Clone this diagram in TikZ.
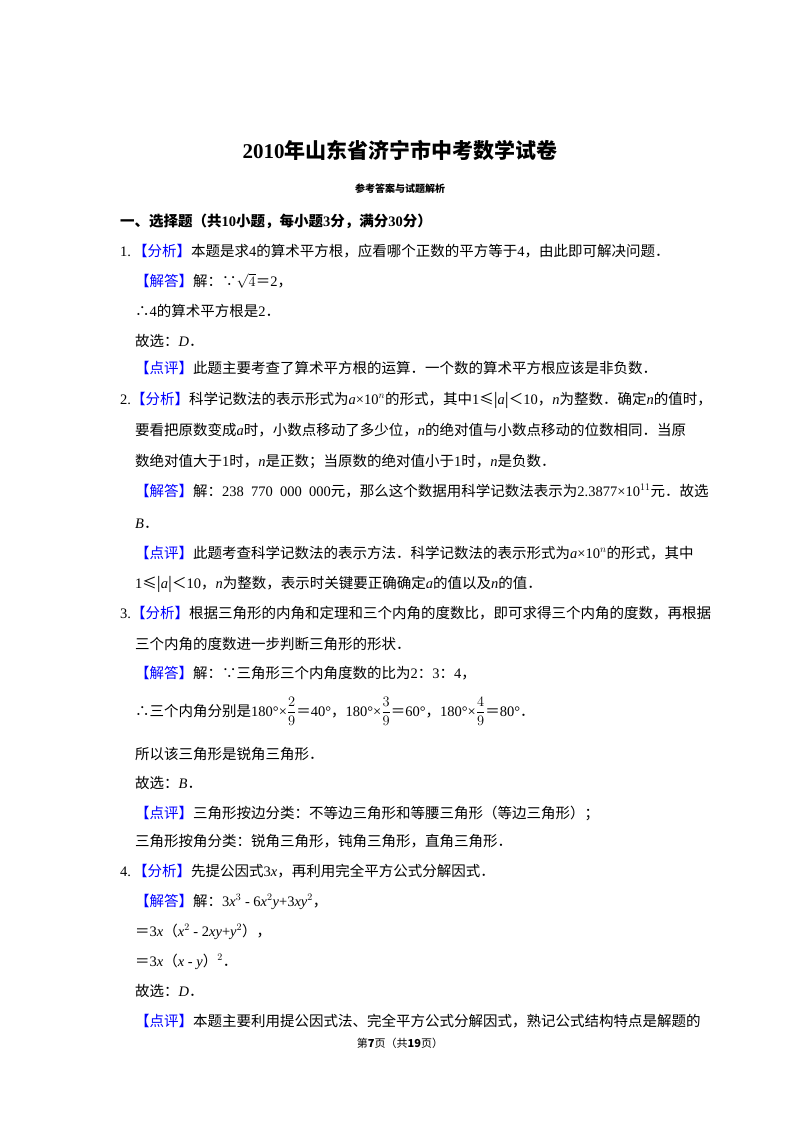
\documentclass[tikz,border=0pt]{standalone}
\usepackage{fontspec}
\setmainfont{Noto Sans CJK SC}
\newfontfamily\ser{Liberation Serif}
\newcommand{\m}[1]{{\ser #1}}
\newcommand{\mi}[1]{{\ser\itshape #1}}
\newcommand{\tg}[1]{{\color{blue}【#1】}}
\newcommand{\fr}[2]{$\displaystyle\frac{#1}{#2}$}
\begin{document}
\begin{tikzpicture}[x=1pt,y=-1pt,
  ln/.style={anchor=base west,inner sep=0pt,font=\fontsize{14.5}{16}\selectfont}]
\useasboundingbox[fill=white] (0,0) rectangle (800,1132);
\node[anchor=base,inner sep=0pt,font=\fontsize{21}{24}\selectfont\bfseries] (title) at (400,158) {\m{\bfseries 2010}年山东省济宁市中考数学试卷};
\node[anchor=base,inner sep=0pt,font=\fontsize{10}{12}\selectfont\bfseries] (sub) at (400,192) {参考答案与试题解析};
\node[ln,font=\fontsize{14.5}{16}\selectfont\bfseries] (sec) at (120,226) {一、选择题（共\m{\bfseries 10}小题，每小题\m{\bfseries 3}分，满分\m{\bfseries 30}分）};
\node[ln] (l1) at (120,256) {\m{1.}\hspace{2pt}\tg{分析}本题是求\m{4}的算术平方根，应看哪个正数的平方等于\m{4}，由此即可解决问题．};
\node[ln] (l2) at (135,286) {\tg{解答}解：∵$\sqrt{4}$＝\m{2}，};
\node[ln] (l3) at (135,316) {∴\m{4}的算术平方根是\m{2}．};
\node[ln] (l4) at (135,346) {故选：\mi{D}．};
\node[ln] (l5) at (135,373) {\tg{点评}此题主要考查了算术平方根的运算．一个数的算术平方根应该是非负数．};
\node[ln] (l6) at (120,404) {\m{2.}\tg{分析}科学记数法的表示形式为\mi{a}\m{×10}$^{n}$的形式，其中\m{1}≤|\mi{a}|＜\m{10}，\mi{n}为整数．确定\mi{n}的值时，};
\node[ln] (l7) at (135,435) {要看把原数变成\mi{a}时，小数点移动了多少位，\mi{n}的绝对值与小数点移动的位数相同．当原};
\node[ln] (l8) at (135,466) {数绝对值大于\m{1}时，\mi{n}是正数；当原数的绝对值小于\m{1}时，\mi{n}是负数．};
\node[ln] (l9) at (135,496) {\tg{解答}解：\m{238\ \ 770\ \ 000\ \ 000}元，那么这个数据用科学记数法表示为\m{2.3877×10}$^{11}$元．故选};
\node[ln] (l10) at (135,528) {\mi{B}．};
\node[ln] (l11) at (135,558) {\tg{点评}此题考查科学记数法的表示方法．科学记数法的表示形式为\mi{a}\m{×10}$^{n}$的形式，其中};
\node[ln] (l12) at (135,588) {\m{1}≤|\mi{a}|＜\m{10}，\mi{n}为整数，表示时关键要正确确定\mi{a}的值以及\mi{n}的值．};
\node[ln] (l13) at (120,618) {\m{3.}\tg{分析}根据三角形的内角和定理和三个内角的度数比，即可求得三个内角的度数，再根据};
\node[ln] (l14) at (135,649) {三个内角的度数进一步判断三角形的形状．};
\node[ln] (l15) at (135,678) {\tg{解答}解：∵三角形三个内角度数的比为\m{2}：\m{3}：\m{4}，};
\node[ln] (l16) at (135,716) {∴三个内角分别是\m{180°×}\fr{2}{9}＝\m{40°}，\m{180°×}\fr{3}{9}＝\m{60°}，\m{180°×}\fr{4}{9}＝\m{80°}．};
\node[ln] (l17) at (135,759) {所以该三角形是锐角三角形．};
\node[ln] (l18) at (135,788) {故选：\mi{B}．};
\node[ln] (l19) at (135,818) {\tg{点评}三角形按边分类：不等边三角形和等腰三角形（等边三角形）；};
\node[ln] (l20) at (135,846) {三角形按角分类：锐角三角形，钝角三角形，直角三角形．};
\node[ln] (l21) at (120,876) {\m{4.}\hspace{2pt}\tg{分析}先提公因式\m{3}\mi{x}，再利用完全平方公式分解因式．};
\node[ln] (l22) at (135,906) {\tg{解答}解：\m{3}\mi{x}$^{3}$\m{ - 6}\mi{x}$^{2}$\mi{y}\m{+3}\mi{xy}$^{2}$，};
\node[ln] (l23) at (135,936) {＝\m{3}\mi{x}（\mi{x}$^{2}$\m{ - 2}\mi{xy}\m{+}\mi{y}$^{2}$），};
\node[ln] (l24) at (135,966) {＝\m{3}\mi{x}（\mi{x}\m{ - }\mi{y}）$^{2}$．};
\node[ln] (l25) at (135,996) {故选：\mi{D}．};
\node[ln] (l26) at (135,1026) {\tg{点评}本题主要利用提公因式法、完全平方公式分解因式，熟记公式结构特点是解题的};
\node[anchor=base,inner sep=0pt,font=\fontsize{11}{13}\selectfont] (foot) at (400,1047) {第\textbf{7}页（共\textbf{19}页）};
\end{tikzpicture}
\end{document}
